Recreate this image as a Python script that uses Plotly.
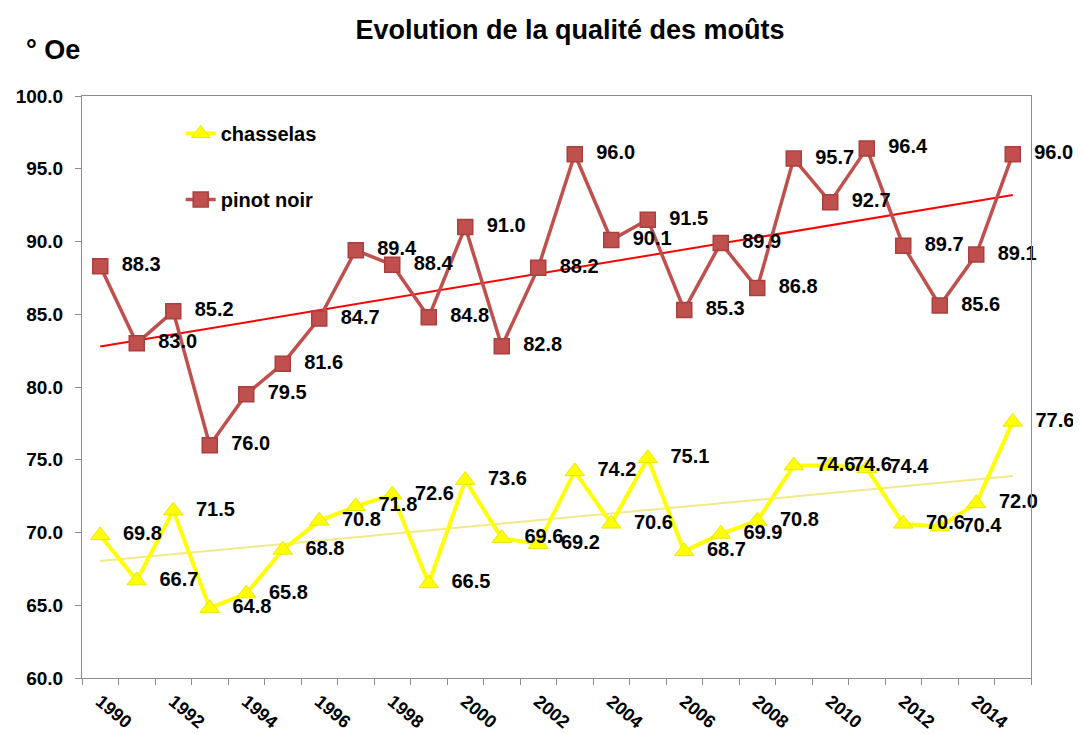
import numpy as np
import plotly.graph_objects as go

years = list(range(1990, 2016))
chasselas = [69.8, 66.7, 71.5, 64.8, 65.8, 68.8, 70.8, 71.8, 72.6, 66.5,
             73.6, 69.6, 69.2, 74.2, 70.6, 75.1, 68.7, 69.9, 70.8, 74.6,
             74.6, 74.4, 70.6, 70.4, 72.0, 77.6]
pinot_noir = [88.3, 83.0, 85.2, 76.0, 79.5, 81.6, 84.7, 89.4, 88.4, 84.8,
              91.0, 82.8, 88.2, 96.0, 90.1, 91.5, 85.3, 89.9, 86.8, 95.7,
              92.7, 96.4, 89.7, 85.6, 89.1, 96.0]
tick_years = list(range(1990, 2015, 2))

FONT = "Liberation Sans, Arial, sans-serif"
YELLOW = "#FFFF00"
RED = "#C0504D"
PAD = "\u00a0\u00a0"  # push the value labels a bit further right of the marker


def trend(values):
    # linear trendline, same as the spreadsheet's "linear" option
    slope, intercept = np.polyfit(years, values, 1)
    return [slope * y + intercept for y in (years[0], years[-1])]


fig = go.Figure()

fig.add_trace(go.Scatter(
    x=[years[0], years[-1]], y=trend(chasselas), mode="lines",
    line=dict(color="#F3E88A", width=2), showlegend=False, hoverinfo="skip",
))
fig.add_trace(go.Scatter(
    x=[years[0], years[-1]], y=trend(pinot_noir), mode="lines",
    line=dict(color="#FF0000", width=2), showlegend=False, hoverinfo="skip",
))

fig.add_trace(go.Scatter(
    x=years, y=chasselas, name="chasselas", legendgroup="c",
    mode="lines+markers+text", cliponaxis=False,
    line=dict(color=YELLOW, width=4),
    marker=dict(symbol="triangle-up", size=17, color=YELLOW,
                line=dict(color="#E8E800", width=1)),
    text=[PAD + f"{v:.1f}" for v in chasselas], textposition="middle right",
    textfont=dict(family=FONT, size=20, color="black", weight="bold"),
))
fig.add_trace(go.Scatter(
    x=years, y=pinot_noir, name="pinot noir", legendgroup="p",
    mode="lines+markers+text", cliponaxis=False,
    line=dict(color=RED, width=3.5),
    marker=dict(symbol="square", size=15, color=RED,
                line=dict(color="#A9403D", width=1.5)),
    text=[PAD + f"{v:.1f}" for v in pinot_noir], textposition="middle right",
    textfont=dict(family=FONT, size=20, color="black", weight="bold"),
))

# page body adds 8px, margins are set so the plot area lands at 82..1031 x 96..678
fig.update_layout(
    width=1081, height=734,
    paper_bgcolor="white", plot_bgcolor="white",
    margin=dict(l=74, r=58, t=88, b=64),
    font=dict(family=FONT, color="black"),
    title=dict(text="Evolution de la qualité des moûts",
               x=562 / 1081, xanchor="center", y=1 - 22 / 734, yanchor="middle",
               font=dict(family=FONT, size=27, weight="bold")),
    legend=dict(x=0.104, y=0.969, xanchor="left", yanchor="top",
                bgcolor="rgba(0,0,0,0)", tracegroupgap=37,
                font=dict(family=FONT, size=20, weight="bold")),
    showlegend=True,
    annotations=[dict(text="° Oe", xref="paper", yref="paper",
                      x=-58 / 949, y=1 + 46 / 582, xanchor="left", yanchor="middle",
                      showarrow=False,
                      font=dict(family=FONT, size=27, weight="bold"))],
)

fig.update_xaxes(
    range=[1989.5, 2015.5], tickvals=tick_years, ticktext=[str(y) for y in tick_years],
    tickangle=40, ticks="", ticklabelstandoff=5, automargin=False,
    showgrid=False, zeroline=False,
    showline=True, linecolor="#8C8C8C", linewidth=1, mirror=True,
    tickfont=dict(family=FONT, size=18, weight="bold"),
    minor=dict(tickvals=[y - 0.5 for y in years] + [2015.5], ticks="outside",
               ticklen=6, tickcolor="#8C8C8C", showgrid=False),
)
fig.update_yaxes(
    range=[60, 100], dtick=5, tickformat=".1f",
    ticks="outside", ticklen=6, tickcolor="#8C8C8C", ticklabelstandoff=8,
    automargin=False, showgrid=False, zeroline=False,
    showline=True, linecolor="#8C8C8C", linewidth=1, mirror=True,
    tickfont=dict(family=FONT, size=19, weight="bold"),
)

fig.write_html("out.html")
